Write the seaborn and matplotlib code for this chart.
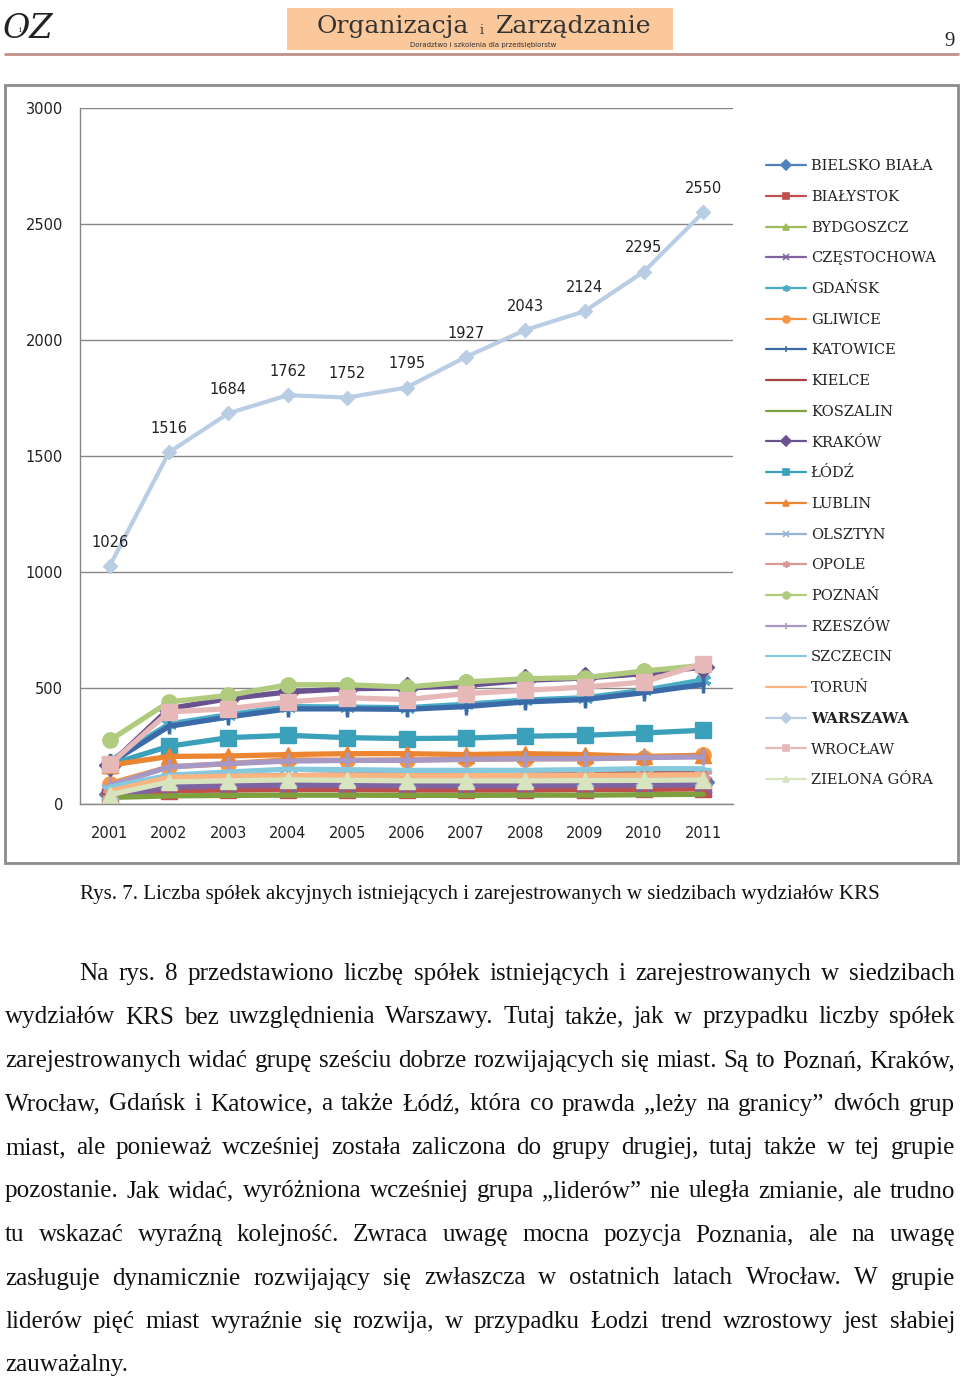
import numpy as np
import pandas as pd
import matplotlib
matplotlib.use('Agg')
import matplotlib.pyplot as plt
from matplotlib.patches import Rectangle
from matplotlib.lines import Line2D
import seaborn as sns

# Dane z wykresu
lata = ['2001', '2002', '2003', '2004', '2005', '2006', '2007', '2008', '2009', '2010', '2011']

bielsko_biala = [45, 78, 85, 88, 88, 86, 86, 87, 90, 92, 95]
bialystok = [35, 58, 60, 62, 62, 60, 60, 60, 62, 63, 65]
bydgoszcz = [60, 110, 115, 118, 118, 117, 117, 118, 118, 118, 118]
czestochowa = [25, 72, 78, 80, 80, 78, 78, 78, 80, 80, 82]
gdansk = [185, 345, 385, 420, 418, 415, 430, 448, 458, 490, 535]
gliwice = [88, 160, 174, 191, 188, 190, 192, 195, 195, 200, 210]
katowice = [175, 335, 375, 410, 410, 408, 420, 440, 450, 480, 515]
kielce = [50, 110, 118, 122, 125, 125, 128, 130, 132, 135, 138]
koszalin = [28, 35, 37, 38, 38, 37, 37, 38, 38, 40, 42]
krakow = [170, 411, 454, 483, 497, 500, 511, 533, 543, 562, 590]
lodz = [170, 249, 286, 296, 286, 282, 284, 292, 296, 306, 318]
lublin = [167, 205, 207, 213, 217, 217, 213, 217, 213, 205, 210]
olsztyn = [50, 100, 105, 108, 106, 105, 105, 105, 107, 110, 112]
opole = [45, 100, 108, 112, 115, 115, 116, 118, 120, 122, 125]
poznan = [274, 440, 468, 514, 514, 504, 526, 540, 545, 573, 598]
rzeszow = [80, 160, 174, 185, 188, 188, 193, 195, 195, 200, 203]
szczecin = [73, 124, 138, 150, 148, 145, 145, 145, 148, 152, 152]
torun = [55, 115, 120, 122, 123, 122, 122, 123, 124, 125, 126]
warszawa = [1026, 1516, 1684, 1762, 1752, 1795, 1927, 2043, 2124, 2295, 2550]
wroclaw = [171, 397, 411, 440, 458, 450, 476, 490, 504, 526, 605]
zielona_gora = [40, 95, 100, 104, 102, 100, 100, 100, 101, 102, 104]

miasta = ['BIELSKO BIAŁA', 'BIAŁYSTOK', 'BYDGOSZCZ', 'CZĘSTOCHOWA', 'GDAŃSK', 'GLIWICE',
          'KATOWICE', 'KIELCE', 'KOSZALIN', 'KRAKÓW', 'ŁÓDŹ', 'LUBLIN', 'OLSZTYN', 'OPOLE',
          'POZNAŃ', 'RZESZÓW', 'SZCZECIN', 'TORUŃ', 'WARSZAWA', 'WROCŁAW', 'ZIELONA GÓRA']
serie = [bielsko_biala, bialystok, bydgoszcz, czestochowa, gdansk, gliwice, katowice, kielce,
         koszalin, krakow, lodz, lublin, olsztyn, opole, poznan, rzeszow, szczecin, torun,
         warszawa, wroclaw, zielona_gora]

kolory = ['#4F81BD', '#C0504D', '#9BBB59', '#8064A2', '#4BACC6', '#F79646',
          '#3B6AA8', '#A8423F', '#7FA03F', '#6A5290', '#3BA0BA', '#EB8532',
          '#95B3D7', '#D99795', '#B0CB7E', '#A898C4', '#86C8DC', '#F9B482',
          '#B9CDE5', '#E6B9B8', '#D7E4BD']
asterisk = (6, 2, 0)
markery = ['D', 's', '^', 'x', asterisk, 'o', '|', '_', None, 'D', 's', '^',
           'x', asterisk, 'o', '|', '_', None, 'D', 's', '^']

rows = []
for miasto, vals in zip(miasta, serie):
    for i, v in enumerate(vals):
        rows.append({'miasto': miasto, 'poz': i, 'rok': lata[i], 'liczba': v})
df = pd.DataFrame(rows)

W, H = 960, 1379
sns.set_style('white')
plt.rcParams['font.family'] = ['DejaVu Sans']

fig = plt.figure(figsize=(W / 100, H / 100), dpi=100)
fig.patch.set_facecolor('white')


def fx(px):
    return px / W


def fy(py):
    return 1 - py / H


# Ramka wykresu
fig.patches.append(Rectangle((fx(5), fy(863)), fx(958) - fx(5), fy(85) - fy(863),
                             transform=fig.transFigure, fill=False, edgecolor='#8C8C8C', lw=2))

ax = fig.add_axes([fx(80), fy(804), fx(733) - fx(80), fy(108) - fy(804)])

for miasto, kolor, marker in zip(miasta, kolory, markery):
    d = df[df['miasto'] == miasto]
    if miasto == 'WARSZAWA':
        lw, ms, mew = 3.0, 7.5, 1
    else:
        lw, ms, mew = 3.8, 11, 1
    if marker in ('x', '|', '_', asterisk):
        mew = 2.5
    sns.lineplot(data=d, x='poz', y='liczba', ax=ax, color=kolor, marker=marker,
                 markersize=ms, linewidth=lw, markeredgecolor=kolor, markeredgewidth=mew,
                 label=miasto)

for i, v in enumerate(warszawa):
    ax.annotate(str(v), (i, v), xytext=(0, 17), textcoords='offset points',
                ha='center', va='center', fontsize=10.5, color='#222222')

ax.set_xlim(-0.5, 10.5)
ax.set_ylim(0, 3000)
ax.set_yticks(range(0, 3001, 500))
ax.set_xticks(range(len(lata)))
ax.set_xticklabels(lata)
ax.set_xticks(np.arange(-0.5, 11, 1), minor=True)
ax.set_xlabel('')
ax.set_ylabel('')
ax.yaxis.grid(True, color='#868686', lw=1)
ax.set_axisbelow(True)
for s in ['top', 'right']:
    ax.spines[s].set_visible(False)
for s in ['left', 'bottom']:
    ax.spines[s].set_color('#868686')
    ax.spines[s].set_linewidth(1)
ax.tick_params(axis='x', which='major', length=0, pad=16, labelsize=10.5, labelcolor='#222222')
ax.tick_params(axis='x', which='minor', length=3.6, color='#868686', width=1)
ax.tick_params(axis='y', length=3.6, color='#868686', width=1, pad=8.6,
               labelsize=10.5, labelcolor='#222222')

handles, labels = ax.get_legend_handles_labels()
leg = ax.legend(handles, labels, loc='upper left', bbox_to_anchor=(fx(759), fy(152)),
                bbox_transform=fig.transFigure, frameon=False, borderpad=0,
                handlelength=2.7, handletextpad=0.35, labelspacing=1.145,
                prop={'family': 'DejaVu Serif', 'size': 10.5})
for h in leg.legend_handles:
    h.set_linewidth(1.6)
    h.set_markersize(5)
    h.set_markeredgewidth(1.2)
for t in leg.get_texts():
    t.set_color('#222222')
    if t.get_text() == 'WARSZAWA':
        t.set_fontweight('bold')

# Nagłówek strony
fig.patches.append(Rectangle((fx(287), fy(50)), fx(673) - fx(287), fy(8) - fy(50),
                             transform=fig.transFigure, facecolor='#FAC89A', edgecolor='none'))
fig.text(fx(393), fy(26), 'Organizacja', ha='center', va='center', fontsize=18,
         family='DejaVu Serif', color='#333333')
fig.text(fx(482), fy(31), 'i', ha='center', va='center', fontsize=9,
         family='DejaVu Serif', color='#333333')
fig.text(fx(574), fy(26), 'Zarządzanie', ha='center', va='center', fontsize=18,
         family='DejaVu Serif', color='#333333')
fig.text(fx(483), fy(45), 'Doradztwo i szkolenia dla przedsiębiorstw', ha='center', va='center',
         fontsize=5, color='#333333')
fig.text(fx(28), fy(29), 'OZ', ha='center', va='center', fontsize=24, style='italic',
         family='DejaVu Serif', color='#222222')
fig.text(fx(20), fy(30), 'i', ha='center', va='center', fontsize=6, family='DejaVu Serif')
fig.text(fx(955), fy(42), '9', ha='right', va='center', fontsize=15, family='Liberation Serif')
fig.add_artist(Line2D([fx(5), fx(958)], [fy(54), fy(54)], color='#C0908A', lw=2,
                      transform=fig.transFigure))

fig.canvas.draw()
renderer = fig.canvas.get_renderer()


def szer(s, size):
    t = fig.text(0, 0, s, fontsize=size, family='Liberation Serif')
    w = t.get_window_extent(renderer).width
    t.remove()
    return w


# Podpis rysunku
podpis = ('Rys. 7. Liczba spółek akcyjnych istniejących i zarejestrowanych '
          'w siedzibach wydziałów KRS')
cap_size = 14.5 * 798 / szer(podpis, 14.5)
fig.text(fx(80), fy(899), podpis, ha='left', va='baseline', fontsize=cap_size,
         family='Liberation Serif', color='#111111')

# Tekst akapitu (wyjustowany)
akapit = [
    'Na rys. 8 przedstawiono liczbę spółek istniejących i zarejestrowanych w siedzibach',
    'wydziałów KRS bez uwzględnienia Warszawy. Tutaj także, jak w przypadku liczby spółek',
    'zarejestrowanych widać grupę sześciu dobrze rozwijających się miast. Są to Poznań, Kraków,',
    'Wrocław, Gdańsk i Katowice, a także Łódź, która co prawda „leży na granicy” dwóch grup',
    'miast, ale ponieważ wcześniej została zaliczona do grupy drugiej, tutaj także w tej grupie',
    'pozostanie. Jak widać, wyróżniona wcześniej grupa „liderów” nie uległa zmianie, ale trudno',
    'tu wskazać wyraźną kolejność. Zwraca uwagę mocna pozycja Poznania, ale na uwagę',
    'zasługuje dynamicznie rozwijający się zwłaszcza w ostatnich latach Wrocław. W grupie',
    'liderów pięć miast wyraźnie się rozwija, w przypadku Łodzi trend wzrostowy jest słabiej',
    'zauważalny.',
]

naturalne = [szer(l, 16) + (74 if k == 0 else 0) for k, l in enumerate(akapit[:-1])]
body_size = 16 * 946 / max(naturalne)

baseline0, krok = 980, 43.5
for k, linia in enumerate(akapit):
    y = fy(baseline0 + k * krok)
    x0 = 79 if k == 0 else 5
    slowa = linia.split(' ')
    if k == len(akapit) - 1:
        fig.text(fx(x0), y, linia, ha='left', va='baseline', fontsize=body_size,
                 family='Liberation Serif', color='#111111')
        continue
    ws = [szer(s, body_size) for s in slowa]
    gap = (955 - x0 - sum(ws)) / (len(slowa) - 1)
    x = x0
    for s, w in zip(slowa, ws):
        fig.text(fx(x), y, s, ha='left', va='baseline', fontsize=body_size,
                 family='Liberation Serif', color='#111111')
        x += w + gap

fig.savefig('out.png', dpi=100, facecolor='white')
